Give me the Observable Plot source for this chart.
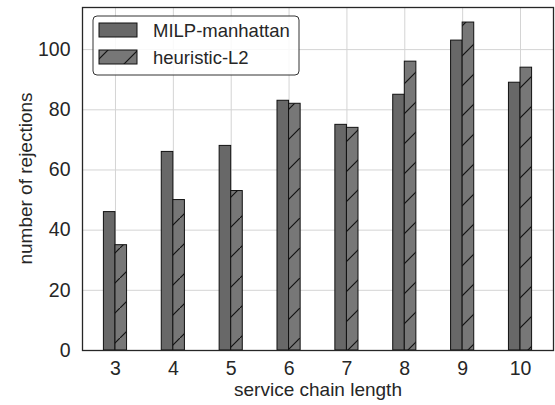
<!DOCTYPE html>
<html><head><meta charset="utf-8">
<script src="https://cdn.jsdelivr.net/npm/d3@7"></script>
<script src="https://cdn.jsdelivr.net/npm/@observablehq/plot@0.6"></script>
<style>
body{margin:0;background:#fff;}
#chart svg{display:block;}
#chart svg g[aria-label$="tick label"]{font-size:19.5px;}
</style>
</head><body><div id="chart"></div>
<script>
const lengths = [3, 4, 5, 6, 7, 8, 9, 10];
const milp = [46, 66, 68, 83, 75, 85, 103, 89];
const heuristic = [35, 50, 53, 82, 74, 96, 109, 94];
const yTicks = [0, 20, 40, 60, 80, 100];
const seriesNames = ["MILP-manhattan", "heuristic-L2"];

const rows = [];
lengths.forEach((L, i) => {
  rows.push({L, series: seriesNames[0], v: milp[i], x1: L - 0.2, x2: L});
  rows.push({L, series: seriesNames[1], v: heuristic[i], x1: L, x2: L + 0.2});
});

const font = "'Liberation Sans', Arial, sans-serif";
const chart = Plot.plot({
  width: 555, height: 405,
  marginLeft: 82, marginRight: 2, marginTop: 7, marginBottom: 55,
  style: {fontFamily: font, fontSize: "19.5px", color: "#262626", background: "#fff"},
  x: {type: "linear", domain: [2.43, 10.57]},
  y: {domain: [0, 114]},
  marks: [
    Plot.gridX(lengths, {stroke: "#d4d4d4", strokeOpacity: 1, strokeWidth: 1}),
    Plot.gridY(yTicks, {stroke: "#d4d4d4", strokeOpacity: 1, strokeWidth: 1}),
    Plot.axisX(lengths, {tickSize: 0, tickPadding: 11, tickFormat: d => String(d), label: null}),
    Plot.axisY(yTicks, {tickSize: 0, tickPadding: 12, label: null}),
    Plot.rectY(rows.filter(d => d.series === seriesNames[0]), {x1: "x1", x2: "x2", y1: 0, y2: "v", fill: "#686868", stroke: "#111", strokeWidth: 1}),
    Plot.rectY(rows.filter(d => d.series === seriesNames[1]), {x1: "x1", x2: "x2", y1: 0, y2: "v", fill: "#777777", stroke: "#111", strokeWidth: 1, className: "hatched"}),
    Plot.frame({stroke: "#262626", strokeWidth: 1.3})
  ]
});
document.getElementById("chart").appendChild(chart);

const svg = d3.select(chart);
svg.selectAll('g[aria-label$="tick label"]').attr("font-size", 19.5);
const defs = svg.insert("defs", ":first-child");
const pat = defs.append("pattern").attr("id", "hatch").attr("patternUnits", "userSpaceOnUse")
  .attr("width", 30).attr("height", 30).attr("y", 8);
pat.append("rect").attr("width", 30).attr("height", 30).attr("fill", "#777777");
pat.append("line").attr("x1", -2).attr("y1", 32).attr("x2", 32).attr("y2", -2).attr("stroke", "#111").attr("stroke-width", 1.2);
svg.selectAll("g.hatched rect").attr("fill", "url(#hatch)");

// axis labels
svg.append("text").attr("x", 318).attr("y", 396).attr("text-anchor", "middle")
  .attr("font-family", font).attr("font-size", 19).attr("fill", "#262626").text("service chain length");
svg.append("text").attr("transform", "translate(32,178.5) rotate(-90)").attr("text-anchor", "middle")
  .attr("font-family", font).attr("font-size", 19).attr("fill", "#262626").text("number of rejections");

// legend
const lg = svg.append("g").attr("text-anchor", "start");
lg.append("rect").attr("x", 93).attr("y", 16).attr("width", 206).attr("height", 59).attr("rx", 4)
  .attr("fill", "#fff").attr("fill-opacity", 0.85).attr("stroke", "#333").attr("stroke-width", 1);
const fills = ["#686868", "url(#hatch)"];
seriesNames.forEach((name, i) => {
  const y = 23 + i * 27;
  lg.append("rect").attr("x", 99).attr("y", y).attr("width", 38).attr("height", 14)
    .attr("fill", fills[i]).attr("stroke", "#111").attr("stroke-width", 1);
  lg.append("text").attr("x", 153).attr("y", y + 13.5).attr("text-anchor", "start").attr("font-family", font).attr("font-size", 18.5)
    .attr("fill", "#262626").text(name);
});
</script>
</body></html>
